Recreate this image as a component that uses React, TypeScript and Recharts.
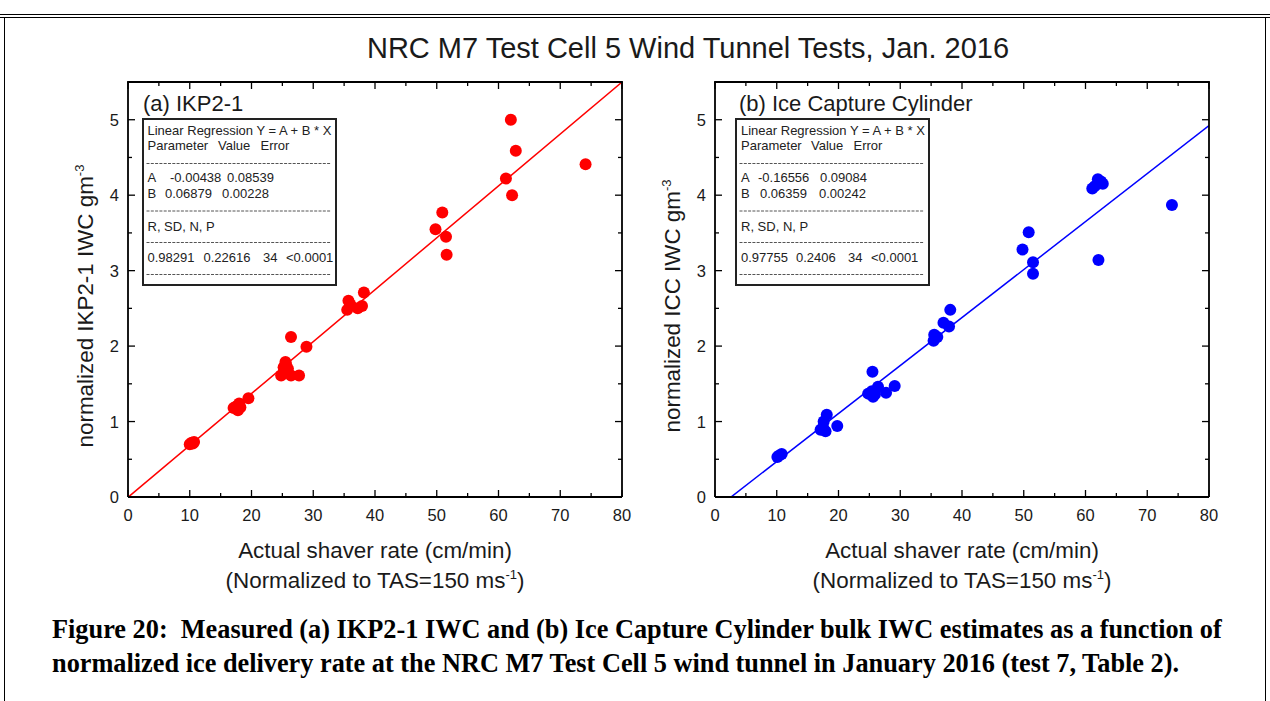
import React from "react";
import { ScatterChart, Scatter, XAxis, YAxis, ReferenceLine, Label } from "recharts";

// shaver rate (cm/min) vs normalized IWC (g m^-3)
const ikpRate = [10.0, 10.5, 10.7, 17.1, 17.5, 17.8, 18.0, 18.2, 19.5, 24.8, 25.2, 25.5, 25.6, 25.9, 26.4, 27.7, 26.4, 28.9, 35.5, 35.7, 36.0, 37.2, 37.9, 38.2, 49.8, 50.9, 51.5, 51.6, 61.2, 62.0, 62.8, 62.2, 74.1, 10.3];
const ikpIwc = [0.70, 0.71, 0.73, 1.18, 1.20, 1.15, 1.24, 1.19, 1.31, 1.61, 1.72, 1.79, 1.76, 1.70, 1.61, 1.61, 2.12, 1.99, 2.48, 2.60, 2.55, 2.50, 2.53, 2.71, 3.55, 3.77, 3.45, 3.21, 4.22, 5.00, 4.59, 4.00, 4.41, 0.72];

const iccRate = [10.1, 10.4, 10.8, 17.1, 17.5, 17.6, 17.9, 18.1, 19.8, 24.8, 25.4, 25.5, 25.6, 25.9, 26.4, 27.7, 29.1, 35.4, 35.5, 36.0, 37.0, 37.9, 38.1, 49.8, 50.8, 51.5, 51.5, 61.1, 61.5, 62.0, 62.5, 62.8, 62.1, 74.0];
const iccIwc = [0.53, 0.55, 0.57, 0.89, 0.92, 1.00, 0.87, 1.09, 0.94, 1.37, 1.40, 1.66, 1.33, 1.36, 1.46, 1.38, 1.47, 2.07, 2.15, 2.12, 2.31, 2.26, 2.48, 3.28, 3.51, 3.11, 2.96, 4.09, 4.12, 4.21, 4.18, 4.15, 3.14, 3.87];

const xDomain = [0, 80];
const yDomain = [0, 5.5];
const xTicks = [0, 5, 10, 15, 20, 25, 30, 35, 40, 45, 50, 55, 60, 65, 70, 75, 80];
const yTicks = [0, 0.5, 1, 1.5, 2, 2.5, 3, 3.5, 4, 4.5, 5];

// linear regression results printed in the boxes
const ikpFit = { a: -0.00438, b: 0.06879, aText: "-0.00438", aErr: "0.08539", bText: "0.06879", bErr: "0.00228", r: "0.98291", sd: "0.22616", n: "34", p: "<0.0001" };
const iccFit = { a: -0.16556, b: 0.06359, aText: "-0.16556", aErr: "0.09084", bText: "0.06359", bErr: "0.00242", r: "0.97755", sd: "0.2406", n: "34", p: "<0.0001" };

const SANS = "'Liberation Sans', Arial, Helvetica, sans-serif";
const SERIF = "'Liberation Serif', 'Times New Roman', serif";
const INK = "#1a1a1a";

// plot box in px (same for both panels)
const PLOT_TOP = 82;
const PLOT_W = 494;
const PLOT_H = 415;

const isMajor = (v: number, step: number) => Math.abs(v / step - Math.round(v / step)) < 1e-6;
const tickLen = (v: number, step: number) => (isMajor(v, step) ? 7 : 4);

// bottom / left axes: inward tick + label
const tickRenderer = (side: "bottom" | "left") => (p: any) => {
  const { x, y, payload } = p;
  const v = payload.value as number;
  if (side === "bottom") {
    return (
      <g>
        <line x1={x} y1={y} x2={x} y2={y - tickLen(v, 10)} stroke="#000" strokeWidth={1.3} />
        {isMajor(v, 10) && (
          <text x={x} y={y + 24} textAnchor="middle" fontSize={16.5} fontFamily={SANS} fill={INK}>
            {v}
          </text>
        )}
      </g>
    );
  }
  return (
    <g>
      <line x1={x} y1={y} x2={x + tickLen(v, 1)} y2={y} stroke="#000" strokeWidth={1.3} />
      {isMajor(v, 1) && (
        <text x={x - 9} y={y + 6} textAnchor="end" fontSize={16.5} fontFamily={SANS} fill={INK}>
          {v}
        </text>
      )}
    </g>
  );
};

const xTitle = (props: any) => {
  const { x, y, width } = props.viewBox;
  const cx = x + width / 2;
  return (
    <text textAnchor="middle" fontFamily={SANS} fontSize={22.4} fill={INK}>
      <tspan x={cx} y={y + 61}>Actual shaver rate (cm/min)</tspan>
      <tspan x={cx} y={y + 91}>
        (Normalized to TAS=150 ms<tspan fontSize={13} dy={-9}>-1</tspan>
        <tspan dy={9}>)</tspan>
      </tspan>
    </text>
  );
};

const yTitle = (label: string) => (props: any) => {
  const { x, y, width } = props.viewBox;
  const cx = x + width - 43;
  const cy = y + 224;
  return (
    <text
      transform={`rotate(-90 ${cx} ${cy})`}
      x={cx}
      y={cy + 8}
      textAnchor="middle"
      fontFamily={SANS}
      fontSize={22.4}
      fill={INK}
    >
      {label}
      <tspan fontSize={13} dy={-9}>-3</tspan>
    </text>
  );
};

type Fit = typeof ikpFit;

function Panel(props: {
  rate: number[];
  iwc: number[];
  color: string;
  fit: Fit;
  yLabel: string;
  width: number;
  marginLeft: number;
  marginRight: number;
}) {
  const { rate, iwc, color, fit, yLabel, width, marginLeft, marginRight } = props;
  const data = rate.map((x, i) => ({ x, y: iwc[i] }));
  const axisLine = { stroke: "#000", strokeWidth: 1.8 };
  const [x0, x1] = xDomain;
  return (
    <ScatterChart width={width} height={610} margin={{ top: PLOT_TOP, left: marginLeft, right: marginRight, bottom: 83 }}>
      <XAxis
        xAxisId="b"
        type="number"
        dataKey="x"
        domain={xDomain}
        ticks={xTicks}
        interval={0}
        tickSize={0}
        tickMargin={0}
        tickLine={false}
        axisLine={axisLine}
        tick={tickRenderer("bottom")}
        height={30}
        allowDataOverflow
      >
        <Label content={xTitle} />
      </XAxis>
      <YAxis
        yAxisId="l"
        type="number"
        dataKey="y"
        domain={yDomain}
        ticks={yTicks}
        interval={0}
        tickSize={0}
        tickMargin={0}
        tickLine={false}
        axisLine={axisLine}
        tick={tickRenderer("left")}
        width={40}
        allowDataOverflow
      >
        <Label content={yTitle(yLabel)} />
      </YAxis>
      <ReferenceLine
        xAxisId="b"
        yAxisId="l"
        segment={[
          { x: x0, y: fit.a + fit.b * x0 },
          { x: x1, y: fit.a + fit.b * x1 },
        ]}
        stroke={color}
        strokeWidth={1.5}
        ifOverflow="hidden"
      />
      <Scatter
        xAxisId="b"
        yAxisId="l"
        data={data}
        fill={color}
        isAnimationActive={false}
        shape={(p: any) => <circle cx={p.cx} cy={p.cy} r={6} fill={color} />}
      />
    </ScatterChart>
  );
}

// top and right sides of the plot frame with inward ticks
function FrameTopRight(props: { left: number }) {
  const pad = 2;
  const sx = (v: number) => pad + ((v - xDomain[0]) / (xDomain[1] - xDomain[0])) * PLOT_W;
  const sy = (v: number) => pad + PLOT_H - ((v - yDomain[0]) / (yDomain[1] - yDomain[0])) * PLOT_H;
  const right = pad + PLOT_W;
  return (
    <svg
      style={{ position: "absolute", left: props.left - pad, top: PLOT_TOP - pad, pointerEvents: "none" }}
      width={PLOT_W + 2 * pad}
      height={PLOT_H + 2 * pad}
    >
      <line x1={pad - 0.9} x2={right + 0.9} y1={pad} y2={pad} stroke="#000" strokeWidth={1.8} />
      <line x1={right} x2={right} y1={pad} y2={pad + PLOT_H} stroke="#000" strokeWidth={1.8} />
      {xTicks.map((v) => (
        <line key={`t${v}`} x1={sx(v)} x2={sx(v)} y1={pad} y2={pad + tickLen(v, 10)} stroke="#000" strokeWidth={1.3} />
      ))}
      {yTicks.map((v) => (
        <line key={`r${v}`} x1={right} x2={right - tickLen(v, 1)} y1={sy(v)} y2={sy(v)} stroke="#000" strokeWidth={1.3} />
      ))}
    </svg>
  );
}

function FitBox(props: { fit: Fit; left: number; cols: number[] }) {
  const { fit, left, cols } = props;
  const w = 193;
  const h = 166;
  const t = { fontFamily: SANS, fontSize: 13, fill: "#222" } as const;
  const dash = (y: number) => (
    <line x1={4.5} x2={w - 4} y1={y} y2={y} stroke="#555" strokeWidth={1} strokeDasharray="3 1.3" />
  );
  return (
    <svg style={{ position: "absolute", left, top: 118 }} width={w + 2} height={h + 2}>
      <rect x={1} y={1} width={w} height={h} fill="#fff" stroke="#222" strokeWidth={2} />
      <text x={cols[0]} y={17} {...t}>Linear Regression Y = A + B * X</text>
      <text x={cols[0]} y={32} {...t}>Parameter</text>
      <text x={76} y={32} {...t}>Value</text>
      <text x={118.5} y={32} {...t}>Error</text>
      {dash(45.5)}
      <text x={cols[0]} y={64} {...t}>A</text>
      <text x={cols[1]} y={64} {...t}>{fit.aText}</text>
      <text x={cols[2]} y={64} {...t}>{fit.aErr}</text>
      <text x={cols[0]} y={80} {...t}>B</text>
      <text x={cols[3]} y={80} {...t}>{fit.bText}</text>
      <text x={cols[4]} y={80} {...t}>{fit.bErr}</text>
      {dash(93)}
      <text x={cols[0]} y={112.5} {...t}>R, SD, N, P</text>
      {dash(124.5)}
      <text x={cols[0]} y={144} {...t}>{fit.r}</text>
      <text x={cols[5]} y={144} {...t}>{fit.sd}</text>
      <text x={cols[6]} y={144} {...t}>{fit.n}</text>
      <text x={cols[7]} y={144} {...t}>{fit.p}</text>
      {dash(156.5)}
    </svg>
  );
}

export default function App() {
  const abs = (s: React.CSSProperties): React.CSSProperties => ({ position: "absolute", ...s });
  return (
    <div style={abs({ left: 0, top: 0, width: 1270, height: 701, background: "#fff", overflow: "hidden" })}>
      <div style={abs({ left: 0, top: 14, width: 1270, height: 0, borderTop: "4px double #000" })} />
      <div style={abs({ left: 4, top: 18, width: 1260, height: 700, borderLeft: "1.5px solid #000", borderRight: "1.5px solid #000" })} />

      <div
        style={abs({
          left: 288,
          top: 34,
          width: 800,
          textAlign: "center",
          fontFamily: SANS,
          fontSize: 29,
          lineHeight: 1,
          color: INK,
        })}
      >
        NRC M7 Test Cell 5 Wind Tunnel Tests, Jan. 2016
      </div>

      <div style={abs({ left: 0, top: 0 })}>
        <Panel rate={ikpRate} iwc={ikpIwc} color="#ff0000" fit={ikpFit} yLabel="normalized IKP2-1 IWC gm" width={640} marginLeft={88} marginRight={18} />
      </div>
      <div style={abs({ left: 640, top: 0 })}>
        <Panel rate={iccRate} iwc={iccIwc} color="#0000ff" fit={iccFit} yLabel="normalized ICC IWC gm" width={630} marginLeft={35} marginRight={61} />
      </div>
      <FrameTopRight left={128} />
      <FrameTopRight left={715} />

      <div style={abs({ left: 143, top: 93, fontFamily: SANS, fontSize: 22, lineHeight: 1, color: INK })}>(a) IKP2-1</div>
      <div style={abs({ left: 739, top: 93, fontFamily: SANS, fontSize: 22, lineHeight: 1, color: INK })}>(b) Ice Capture Cylinder</div>

      <FitBox fit={ikpFit} left={142} cols={[5.5, 28, 85, 23, 80, 61.5, 121, 144]} />
      <FitBox fit={iccFit} left={735} cols={[6, 23, 85, 25, 84, 61, 113, 136]} />

      <div
        style={abs({
          left: 52,
          top: 613,
          fontFamily: SERIF,
          fontWeight: "bold",
          fontSize: 26.3,
          lineHeight: "34px",
          color: "#000",
          whiteSpace: "pre",
        })}
      >
        {"Figure 20:  Measured (a) IKP2-1 IWC and (b) Ice Capture Cylinder bulk IWC estimates as a function of\nnormalized ice delivery rate at the NRC M7 Test Cell 5 wind tunnel in January 2016 (test 7, Table 2)."}
      </div>
    </div>
  );
}
